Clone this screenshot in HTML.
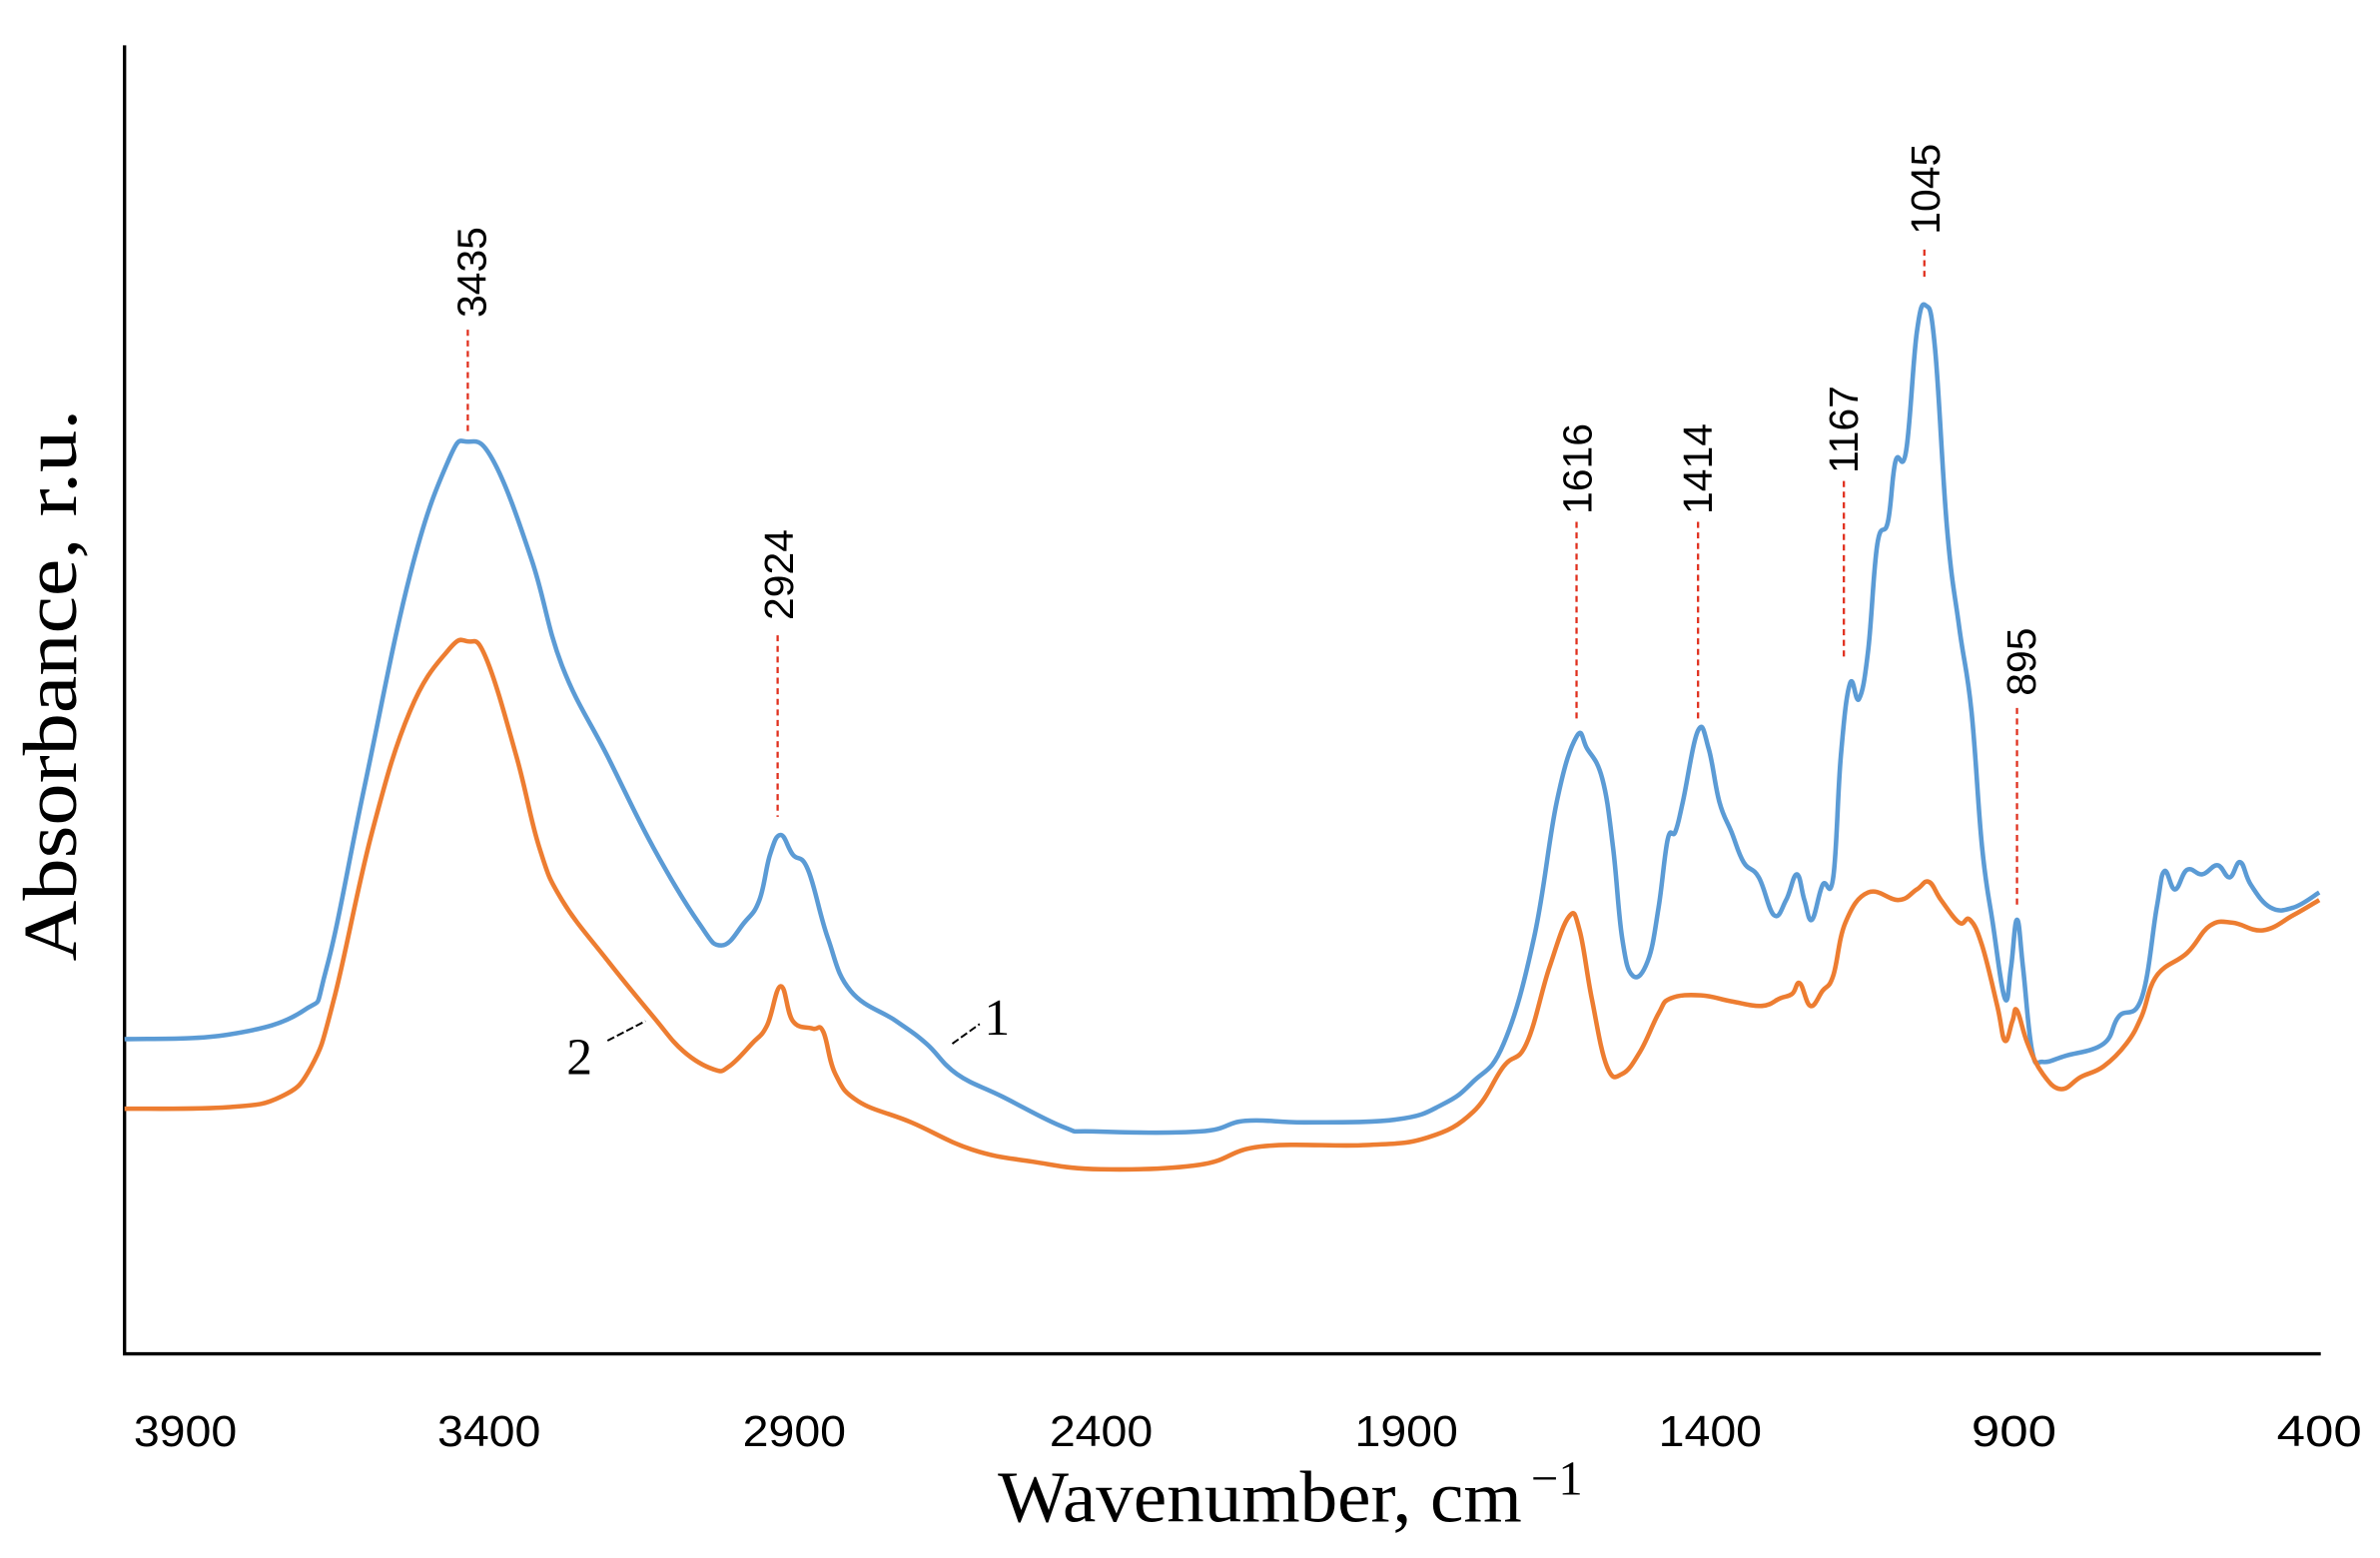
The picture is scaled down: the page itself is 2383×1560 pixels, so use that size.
<!DOCTYPE html>
<html><head><meta charset="utf-8"><style>
html,body{margin:0;padding:0;background:#fff;}
svg{display:block;}
</style></head><body>
<svg id="s" width="2383" height="1560" viewBox="0 0 1567 1030" preserveAspectRatio="none" xmlns="http://www.w3.org/2000/svg">
<rect width="1567" height="1030" fill="#fff"/>
<polyline points="82,30 82,895 1528,895" fill="none" stroke="#000" stroke-width="2.2"/>
<g font-family="Liberation Sans, sans-serif" font-size="29" fill="#000" text-anchor="middle">
<text x="122" y="956" textLength="68" lengthAdjust="spacingAndGlyphs">3900</text>
<text x="322" y="956" textLength="68" lengthAdjust="spacingAndGlyphs">3400</text>
<text x="523" y="956" textLength="68" lengthAdjust="spacingAndGlyphs">2900</text>
<text x="725" y="956" textLength="68" lengthAdjust="spacingAndGlyphs">2400</text>
<text x="926" y="956" textLength="68" lengthAdjust="spacingAndGlyphs">1900</text>
<text x="1126" y="956" textLength="68" lengthAdjust="spacingAndGlyphs">1400</text>
<text x="1326" y="956" textLength="56" lengthAdjust="spacingAndGlyphs">900</text>
<text x="1527" y="956" textLength="56" lengthAdjust="spacingAndGlyphs">400</text>
</g>
<text x="657" y="1006" font-family="Liberation Serif, serif" font-size="48" textLength="345" lengthAdjust="spacingAndGlyphs">Wavenumber, cm</text>
<text x="1008" y="988" font-family="Liberation Serif, serif" font-size="32">−1</text>
<text transform="translate(50,453) rotate(-90)" font-family="Liberation Serif, serif" font-size="50" text-anchor="middle" textLength="365" lengthAdjust="spacingAndGlyphs">Absorbance, r.u.</text>
<g stroke="#e0301e" stroke-width="1.5" stroke-dasharray="4,3">
<line x1="308" y1="218" x2="308" y2="288"/>
<line x1="512" y1="420" x2="512" y2="540"/>
<line x1="1038" y1="345" x2="1038" y2="478"/>
<line x1="1118" y1="345" x2="1118" y2="475"/>
<line x1="1214" y1="318" x2="1214" y2="437"/>
<line x1="1267" y1="165" x2="1267" y2="185"/>
<line x1="1328" y1="468" x2="1328" y2="598"/>
</g>
<g font-family="Liberation Sans, sans-serif" font-size="27" fill="#000">
<text transform="translate(320,210) rotate(-90)">3435</text>
<text transform="translate(522,410) rotate(-90)">2924</text>
<text transform="translate(1048,340) rotate(-90)">1616</text>
<text transform="translate(1127,340) rotate(-90)">1414</text>
<text transform="translate(1223,313) rotate(-90)">1167</text>
<text transform="translate(1277,155) rotate(-90)">1045</text>
<text transform="translate(1340,460) rotate(-90)">895</text>
</g>
<polyline class="c" fill="none" stroke="#5b9bd5" stroke-width="3" stroke-linejoin="round" points="82,687 150,684 200,668 215,640 240,520 270,380 295,305 308,292 325,305 350,370 370,440 400,500 430,560 460,610 475,625 490,610 500,595 507,565 514,552 522,565 532,575 545,620 560,655 590,675 610,690 630,710 660,725 700,745 720,748 790,748 820,741 860,742 920,740 950,730 970,715 990,690 1010,620 1025,530 1038,487 1045,495 1055,515 1062,560 1068,620 1075,645 1085,635 1092,600 1098,555 1103,550 1108,530 1118,483 1125,495 1132,530 1140,550 1148,570 1158,580 1168,605 1176,595 1183,578 1188,595 1193,608 1200,585 1207,580 1212,500 1218,452 1224,462 1230,430 1236,360 1243,345 1248,305 1255,298 1262,220 1268,202 1274,230 1282,350 1290,415 1298,470 1305,560 1312,610 1320,660 1324,640 1328,608 1332,640 1338,695 1345,702 1360,698 1385,690 1395,672 1410,660 1420,600 1425,576 1432,588 1440,575 1450,578 1460,572 1468,580 1475,570 1482,585 1495,600 1510,600 1527,590"/>
<polyline class="c" fill="none" stroke="#ed7d31" stroke-width="3" stroke-linejoin="round" points="82,733 150,732 185,725 205,705 220,660 245,550 270,470 295,430 308,424 320,435 340,500 355,560 370,595 400,635 430,672 450,695 470,707 480,705 495,690 505,678 514,652 522,675 535,680 542,682 550,710 565,728 600,742 640,760 680,768 725,773 790,770 830,758 900,757 940,752 970,735 990,705 1005,690 1020,640 1033,606 1040,615 1048,660 1058,705 1068,710 1080,695 1092,670 1100,660 1120,658 1140,662 1160,665 1172,660 1180,657 1185,650 1192,665 1200,655 1207,645 1215,610 1230,590 1250,595 1262,588 1270,583 1278,595 1290,610 1297,608 1305,625 1315,665 1320,688 1325,675 1328,668 1335,690 1345,710 1357,720 1370,712 1385,705 1400,690 1410,672 1420,645 1440,630 1455,612 1470,610 1490,615 1510,605 1527,595"/>
<g stroke="#000" stroke-width="1.3" stroke-dasharray="5,2">
<line x1="627" y1="690" x2="645" y2="677"/>
<line x1="400" y1="688" x2="425" y2="675"/>
</g>
<g font-family="Liberation Serif, serif" font-size="34" fill="#000">
<text x="648" y="684">1</text>
<text x="373" y="710">2</text>
</g>
</svg>
<script>
document.querySelectorAll('polyline.c').forEach(function(pl){
  var p=pl.getAttribute('points').trim().split(/\s+/).map(function(s){return s.split(',').map(Number);});
  var d='M'+p[0][0]+','+p[0][1];
  for(var i=0;i<p.length-1;i++){
    var p0=p[i-1]||p[i],p1=p[i],p2=p[i+1],p3=p[i+2]||p2,t=0.2;
    var c1=[p1[0]+(p2[0]-p0[0])*t,p1[1]+(p2[1]-p0[1])*t];
    var c2=[p2[0]-(p3[0]-p1[0])*t,p2[1]-(p3[1]-p1[1])*t];
    d+=' C'+c1[0].toFixed(1)+','+c1[1].toFixed(1)+' '+c2[0].toFixed(1)+','+c2[1].toFixed(1)+' '+p2[0]+','+p2[1];
  }
  var path=document.createElementNS('http://www.w3.org/2000/svg','path');
  path.setAttribute('d',d);
  ['fill','stroke','stroke-width','stroke-linejoin'].forEach(function(a){path.setAttribute(a,pl.getAttribute(a));});
  pl.parentNode.replaceChild(path,pl);
});
</script>
</body></html>
